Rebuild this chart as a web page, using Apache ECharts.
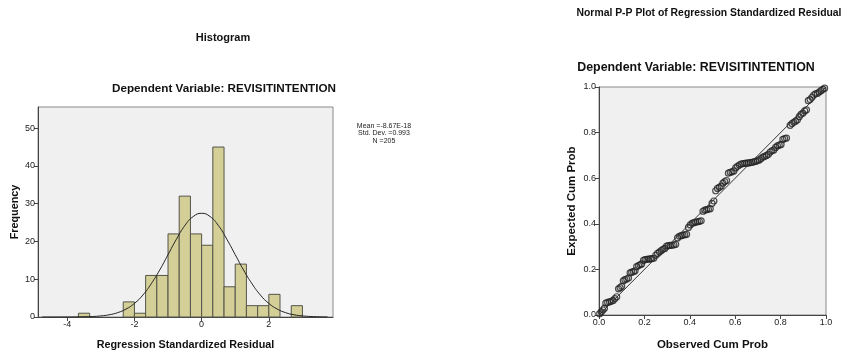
<!DOCTYPE html>
<html>
<head>
<meta charset="utf-8">
<script src="https://cdn.jsdelivr.net/npm/echarts@6/dist/echarts.min.js"></script>
<style>
  html, body { margin: 0; padding: 0; background: #fff; }
  #chart { width: 851px; height: 356px; }
</style>
</head>
<body>
<div id="chart"></div>
<script>
// histogram bins (lower edge, upper edge) and counts
var binStart = [-3.667, -2.333, -2, -1.667, -1.333, -1, -0.667, -0.333, 0, 0.333, 0.667, 1, 1.333, 1.667, 2, 2.667];
var binEnd   = [-3.333, -2, -1.667, -1.333, -1, -0.667, -0.333, 0, 0.333, 0.667, 1, 1.333, 1.667, 2, 2.333, 3];
var binCount = [1, 4, 1, 11, 11, 22, 32, 22, 19, 45, 8, 14, 3, 3, 6, 3];

// normal curve
var curveX = [-4.75, -4.5, -4.25, -4, -3.75, -3.5, -3.25, -3, -2.75, -2.5, -2.25, -2, -1.75, -1.5, -1.25, -1, -0.75, -0.5, -0.25, 0,
              0.25, 0.5, 0.75, 1, 1.25, 1.5, 1.75, 2, 2.25, 2.5, 2.75, 3, 3.25, 3.5, 3.75];
var curveY = [0, 0, 0, 0.01, 0.02, 0.06, 0.13, 0.29, 0.59, 1.15, 2.1, 3.6, 5.8, 8.8, 12.4, 16.5, 20.6, 24.2, 26.6, 27.45,
              26.6, 24.2, 20.6, 16.5, 12.4, 8.8, 5.8, 3.6, 2.1, 1.15, 0.59, 0.29, 0.13, 0.06, 0.02];

var histXTicks = [-4, -2, 0, 2];
var histYTicks = [0, 10, 20, 30, 40, 50];
var statsText = ['Mean =-8.67E-18', 'Std. Dev. =0.993', 'N =205'];

// P-P plot points
var ppObserved = [0.003, 0.010, 0.017, 0.024, 0.030, 0.038, 0.046, 0.054, 0.062, 0.070, 0.078, 0.086, 0.093, 0.100, 0.107,
  0.114, 0.122, 0.130, 0.137, 0.144, 0.152, 0.159, 0.166, 0.174, 0.181, 0.188, 0.196, 0.203, 0.211, 0.218, 0.226, 0.233,
  0.241, 0.250, 0.258, 0.266, 0.274, 0.282, 0.290, 0.298, 0.306, 0.314, 0.322, 0.330, 0.338, 0.346, 0.354, 0.362, 0.370,
  0.378, 0.386, 0.394, 0.402, 0.410, 0.418, 0.426, 0.434, 0.442, 0.450, 0.458, 0.466, 0.474, 0.482, 0.490, 0.498, 0.506,
  0.514, 0.522, 0.530, 0.538, 0.546, 0.554, 0.562, 0.570, 0.578, 0.586, 0.594, 0.602, 0.610, 0.618, 0.626, 0.634, 0.642,
  0.650, 0.658, 0.666, 0.674, 0.682, 0.690, 0.698, 0.706, 0.714, 0.722, 0.730, 0.738, 0.746, 0.754, 0.762, 0.770, 0.778,
  0.786, 0.794, 0.802, 0.810, 0.818, 0.826, 0.842, 0.850, 0.858, 0.866, 0.874, 0.882, 0.890, 0.898, 0.906, 0.914, 0.922,
  0.930, 0.938, 0.946, 0.954, 0.962, 0.970, 0.978, 0.986, 0.994];
var ppExpected = [0.006, 0.014, 0.022, 0.030, 0.052, 0.055, 0.058, 0.060, 0.064, 0.072, 0.080, 0.115, 0.120, 0.126, 0.150,
  0.155, 0.158, 0.162, 0.185, 0.188, 0.190, 0.194, 0.212, 0.217, 0.220, 0.224, 0.240, 0.243, 0.244, 0.245, 0.246, 0.247,
  0.249, 0.262, 0.270, 0.276, 0.282, 0.288, 0.292, 0.302, 0.304, 0.305, 0.306, 0.307, 0.310, 0.338, 0.345, 0.348, 0.350,
  0.352, 0.354, 0.384, 0.395, 0.402, 0.405, 0.407, 0.409, 0.411, 0.413, 0.455, 0.460, 0.462, 0.464, 0.466, 0.490, 0.500,
  0.545, 0.555, 0.560, 0.565, 0.578, 0.585, 0.590, 0.622, 0.626, 0.628, 0.632, 0.645, 0.652, 0.658, 0.662, 0.664, 0.665,
  0.666, 0.667, 0.668, 0.670, 0.672, 0.674, 0.676, 0.680, 0.686, 0.692, 0.696, 0.700, 0.705, 0.715, 0.720, 0.724, 0.735,
  0.742, 0.745, 0.748, 0.770, 0.774, 0.776, 0.832, 0.840, 0.845, 0.850, 0.856, 0.870, 0.880, 0.885, 0.895, 0.900, 0.940,
  0.945, 0.955, 0.965, 0.970, 0.972, 0.978, 0.984, 0.990, 0.995];
var refLine = [[0, 0], [1, 1]];

var font = 'Liberation Sans, Arial, sans-serif';

var bars = binStart.map(function (s, i) { return [s, binEnd[i], binCount[i]]; });
var curve = curveX.map(function (x, i) { return [x, curveY[i]]; });
var pp = ppObserved.map(function (x, i) { return [x, ppExpected[i]]; });

var axisLine = { onZero: false, lineStyle: { color: '#444', width: 1 } };
var tickStyle = { show: true, inside: false, length: 4, lineStyle: { color: '#444' } };
var labelStyle = { color: '#222', fontSize: 9, fontFamily: font, margin: 3 };
function nameStyle(size) {
  return { color: '#111', fontSize: size, fontWeight: 'bold', fontFamily: font };
}

var chart = echarts.init(document.getElementById('chart'));
var option = {
  animation: false,
  title: [
    { text: 'Histogram', left: 218, top: 27, textAlign: 'center',
      textStyle: { fontSize: 11, fontWeight: 'bold', fontFamily: font, color: '#111' } },
    { text: 'Dependent Variable: REVISITINTENTION', left: 219, top: 78, textAlign: 'center',
      textStyle: { fontSize: 11.7, fontWeight: 'bold', fontFamily: font, color: '#111' } },
    { text: statsText.join('\n'), left: 379, top: 117, textAlign: 'center',
      textStyle: { fontSize: 7, lineHeight: 7.5, fontFamily: font, color: '#222', fontWeight: 'normal' } },
    { text: 'Normal P-P Plot of Regression Standardized Residual', left: 704, top: 3, textAlign: 'center',
      textStyle: { fontSize: 10.4, fontWeight: 'bold', fontFamily: font, color: '#111' } },
    { text: 'Dependent Variable: REVISITINTENTION', left: 691, top: 57, textAlign: 'center',
      textStyle: { fontSize: 12.4, fontWeight: 'bold', fontFamily: font, color: '#111' } }
  ],
  grid: [
    { left: 38, top: 107, width: 295, height: 211, show: true, backgroundColor: '#f0f0f0',
      borderColor: '#8a8a8a', borderWidth: 1 },
    { left: 599, top: 87, width: 227, height: 229, show: true, backgroundColor: '#f0f0f0',
      borderColor: '#8a8a8a', borderWidth: 1 }
  ],
  xAxis: [
    { gridIndex: 0, type: 'value', min: -4.87, max: 3.91,
      name: 'Regression Standardized Residual', nameLocation: 'middle', nameGap: 23, nameTextStyle: nameStyle(10.8),
      axisLine: axisLine,
      axisTick: Object.assign({ customValues: histXTicks }, tickStyle),
      axisLabel: Object.assign({ customValues: histXTicks }, labelStyle),
      splitLine: { show: false } },
    { gridIndex: 1, type: 'value', min: 0, max: 1, interval: 0.2,
      name: 'Observed Cum Prob', nameLocation: 'middle', nameGap: 24, nameTextStyle: nameStyle(11.5),
      axisLine: axisLine, axisTick: tickStyle,
      axisLabel: Object.assign({ formatter: function (v) { return v.toFixed(1); } }, labelStyle),
      splitLine: { show: false } }
  ],
  yAxis: [
    { gridIndex: 0, type: 'value', min: 0, max: 55.6,
      name: 'Frequency', nameLocation: 'middle', nameGap: 17, nameTextStyle: nameStyle(10.8),
      axisLine: axisLine,
      axisTick: Object.assign({ customValues: histYTicks }, tickStyle),
      axisLabel: Object.assign({ customValues: histYTicks }, labelStyle),
      splitLine: { show: false } },
    { gridIndex: 1, type: 'value', min: 0, max: 1, interval: 0.2,
      name: 'Expected Cum Prob', nameLocation: 'middle', nameGap: 21, nameTextStyle: nameStyle(11.5),
      axisLine: axisLine, axisTick: tickStyle,
      axisLabel: Object.assign({ formatter: function (v) { return v.toFixed(1); } }, labelStyle),
      splitLine: { show: false } }
  ],
  series: [
    {
      type: 'custom', xAxisIndex: 0, yAxisIndex: 0, data: bars,
      renderItem: function (params, api) {
        var p0 = api.coord([api.value(0), api.value(2)]);
        var p1 = api.coord([api.value(1), 0]);
        return {
          type: 'rect',
          shape: { x: p0[0], y: p0[1], width: p1[0] - p0[0], height: p1[1] - p0[1] },
          style: { fill: '#d3cf97', stroke: '#55544a', lineWidth: 1 }
        };
      },
      encode: { x: [0, 1], y: 2 }
    },
    {
      type: 'line', xAxisIndex: 0, yAxisIndex: 0, data: curve, smooth: true, showSymbol: false,
      lineStyle: { color: '#222', width: 1 }, z: 5
    },
    {
      type: 'line', xAxisIndex: 1, yAxisIndex: 1, data: refLine, showSymbol: false,
      lineStyle: { color: '#333', width: 1 }
    },
    {
      type: 'scatter', xAxisIndex: 1, yAxisIndex: 1, data: pp, symbol: 'circle', symbolSize: 6,
      itemStyle: { color: 'rgba(0,0,0,0)', borderColor: '#222', borderWidth: 1.2 }
    }
  ]
};
chart.setOption(option);
</script>
</body>
</html>
